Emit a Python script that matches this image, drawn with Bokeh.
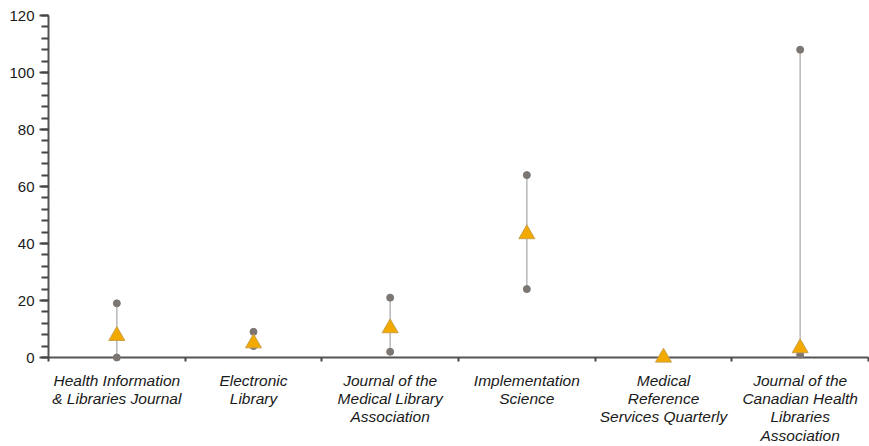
from bokeh.plotting import figure
from bokeh.models import Range1d, FixedTicker, ColumnDataSource
from bokeh.embed import file_html
from bokeh.resources import INLINE

categories = [
    "Health Information\n& Libraries Journal",
    "Electronic\nLibrary",
    "Journal of the\nMedical Library\nAssociation",
    "Implementation\nScience",
    "Medical\nReference\nServices Quarterly",
    "Journal of the\nCanadian Health\nLibraries\nAssociation",
]
max_vals = [19, 9, 21, 64, 0, 108]
min_vals = [0, 4, 2, 24, 0, 1]
mean_vals = [7.6, 5, 10.3, 43.3, 0, 3.3]
y_ticks = [0, 20, 40, 60, 80, 100, 120]

xs = [i + 0.5 for i in range(len(categories))]
src = ColumnDataSource(dict(x=xs, lo=min_vals, hi=max_vals, mean=mean_vals))

p = figure(width=869, height=446, output_backend="svg", toolbar_location=None,
           x_range=Range1d(0, len(categories)), y_range=Range1d(0, 120),
           min_border_left=48, min_border_right=1, min_border_top=15, min_border_bottom=10)
p.outline_line_color = None
p.xgrid.grid_line_color = None
p.ygrid.grid_line_color = None

seg = p.segment(x0="x", y0="lo", x1="x", y1="hi", source=src, line_color="#bcbcbc", line_width=1.6)
hi_r = p.scatter(x="x", y="hi", source=src, size=7, fill_color="#7b7672", line_color="#7b7672")
lo_r = p.scatter(x="x", y="lo", source=src, size=7, fill_color="#7b7672", line_color="#7b7672")
tri = p.scatter(x="x", y="mean", source=src, marker="triangle", size=16,
                fill_color="#f2aa00", line_color="#c9a04a", line_width=1)
for r in (seg, hi_r, lo_r, tri):
    r.level = "overlay"

xa = p.xaxis[0]
xa.ticker = FixedTicker(ticks=xs, minor_ticks=list(range(len(categories) + 1)))
xa.major_label_overrides = {x: c for x, c in zip(xs, categories)}
xa.major_tick_out = 0
xa.major_tick_in = 0
xa.minor_tick_out = 4
xa.minor_tick_in = 0
xa.minor_tick_line_color = "#444444"
xa.minor_tick_line_width = 2
xa.axis_line_color = "#555555"
xa.axis_line_width = 2
xa.major_label_text_font = "Liberation Sans"
xa.major_label_text_font_style = "italic"
xa.major_label_text_font_size = "15.5px"
xa.major_label_text_color = "#1a1a1a"
xa.major_label_text_line_height = 1.08
xa.major_label_standoff = 10

ya = p.yaxis[0]
ya.ticker = FixedTicker(ticks=y_ticks, minor_ticks=list(range(0, 121, 4)))
ya.major_tick_out = 9
ya.major_tick_in = 0
ya.minor_tick_out = 7
ya.minor_tick_in = 0
ya.major_tick_line_color = "#444444"
ya.minor_tick_line_color = "#444444"
ya.major_tick_line_width = 2
ya.minor_tick_line_width = 2
ya.axis_line_color = "#555555"
ya.axis_line_width = 2
ya.major_label_text_font = "Liberation Sans"
ya.major_label_text_font_size = "15px"
ya.major_label_text_color = "#1a1a1a"
ya.major_label_standoff = 5

open("out.html", "w").write(file_html(p, INLINE))
